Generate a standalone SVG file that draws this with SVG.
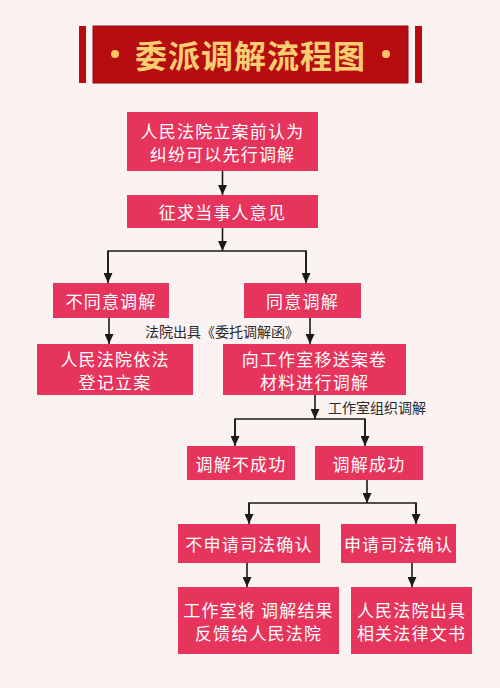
<svg xmlns="http://www.w3.org/2000/svg" width="500" height="688" viewBox="0 0 500 688">
<defs>
<marker id="ah" markerUnits="userSpaceOnUse" markerWidth="10" markerHeight="9" refX="10" refY="4.5" orient="auto" viewBox="0 0 10 9">
<path d="M0,0 L10,4.5 L0,9 Z" fill="#1a1a1a"/>
</marker>
<style>
.box{fill:#e6345c;}
.t{font-family:"Noto Sans CJK SC","Noto Sans",sans-serif;font-size:17px;fill:#ffffff;text-anchor:middle;dominant-baseline:central;letter-spacing:1.2px;}
.lbl{font-family:"Noto Sans CJK SC","Noto Sans",sans-serif;font-size:14px;fill:#2a2a2a;dominant-baseline:central;}
.ln{stroke:#1a1a1a;stroke-width:1.6;fill:none;}
.arr{stroke:#1a1a1a;stroke-width:1.6;fill:none;}
</style>
</defs>
<rect width="500" height="688" fill="#faf3f2"/>

<g id="title">
<rect x="79" y="26" width="7" height="57" fill="#b50d10"/>
<rect x="415" y="26" width="7" height="57" fill="#b50d10"/>
<rect x="93" y="26" width="315" height="57" fill="#b50d10" stroke="#9a0a0c" stroke-width="1"/>
<circle cx="115" cy="54" r="4" fill="#ffc466"/>
<circle cx="386" cy="54" r="4" fill="#ffc466"/>
<text x="250.5" y="54" text-anchor="middle" dominant-baseline="central" font-family="'Noto Sans CJK SC',sans-serif" font-size="32" font-weight="bold" fill="#f9cd72" letter-spacing="1">委派调解流程图</text>
</g>

<g id="connectors">
<line class="arr" x1="222.5" y1="171" x2="222.5" y2="195" marker-end="url(#ah)"/>
<line class="arr" x1="222.5" y1="228" x2="222.5" y2="251" marker-end="url(#ah)"/>
<polyline class="ln" points="108,275 108,251 306,251 306,275"/>
<line class="arr" x1="108" y1="251" x2="108" y2="283" marker-end="url(#ah)"/>
<line class="arr" x1="306" y1="251" x2="306" y2="283" marker-end="url(#ah)"/>
<line class="arr" x1="109" y1="318" x2="109" y2="344" marker-end="url(#ah)"/>
<line class="arr" x1="310" y1="318" x2="310" y2="344" marker-end="url(#ah)"/>
<line class="arr" x1="315" y1="395" x2="315" y2="419" marker-end="url(#ah)"/>
<polyline class="ln" points="235,438 235,419 365,419 365,438"/>
<line class="arr" x1="235" y1="419" x2="235" y2="446" marker-end="url(#ah)"/>
<line class="arr" x1="365" y1="419" x2="365" y2="446" marker-end="url(#ah)"/>
<line class="arr" x1="367" y1="480" x2="367" y2="503" marker-end="url(#ah)"/>
<polyline class="ln" points="249,516 249,503 416,503 416,516"/>
<line class="arr" x1="249" y1="503" x2="249" y2="524" marker-end="url(#ah)"/>
<line class="arr" x1="416" y1="503" x2="416" y2="524" marker-end="url(#ah)"/>
<line class="arr" x1="247" y1="563" x2="247" y2="587" marker-end="url(#ah)"/>
<line class="arr" x1="412" y1="563" x2="412" y2="587" marker-end="url(#ah)"/>
<text class="lbl" x="145" y="331">法院出具《委托调解函》</text>
<text class="lbl" x="328" y="407">工作室组织调解</text>
</g>

<g id="n1">
<rect class="box" x="127" y="112" width="191" height="59"/>
<text class="t" x="222.5" y="130">人民法院立案前认为</text>
<text class="t" x="222.5" y="153">纠纷可以先行调解</text>
</g>
<g id="n2">
<rect class="box" x="127" y="195" width="191" height="33"/>
<text class="t" x="222.5" y="211.5">征求当事人意见</text>
</g>
<g id="n3">
<rect class="box" x="53" y="283" width="116" height="35"/>
<text class="t" x="111" y="300.5">不同意调解</text>
</g>
<g id="n4">
<rect class="box" x="244" y="283" width="117" height="35"/>
<text class="t" x="302.5" y="300.5">同意调解</text>
</g>
<g id="n5">
<rect class="box" x="37" y="344" width="156" height="51"/>
<text class="t" x="115" y="358">人民法院依法</text>
<text class="t" x="115" y="381">登记立案</text>
</g>
<g id="n6">
<rect class="box" x="223" y="344" width="183" height="51"/>
<text class="t" x="314.5" y="358">向工作室移送案卷</text>
<text class="t" x="314.5" y="381">材料进行调解</text>
</g>
<g id="n7">
<rect class="box" x="187" y="446" width="108" height="34"/>
<text class="t" x="241" y="463">调解不成功</text>
</g>
<g id="n8">
<rect class="box" x="315" y="446" width="108" height="34"/>
<text class="t" x="369" y="463">调解成功</text>
</g>
<g id="n9">
<rect class="box" x="178" y="524" width="142" height="39"/>
<text class="t" x="249" y="543.5">不申请司法确认</text>
</g>
<g id="n10">
<rect class="box" x="341" y="524" width="115" height="39"/>
<text class="t" x="398.5" y="543.5">申请司法确认</text>
</g>
<g id="n11">
<rect class="box" x="178" y="587" width="161" height="67"/>
<text class="t" x="258.5" y="609">工作室将 调解结果</text>
<text class="t" x="258.5" y="632">反馈给人民法院</text>
</g>
<g id="n12">
<rect class="box" x="351" y="587" width="121" height="67"/>
<text class="t" x="411.5" y="609">人民法院出具</text>
<text class="t" x="411.5" y="632">相关法律文书</text>
</g>
</svg>
